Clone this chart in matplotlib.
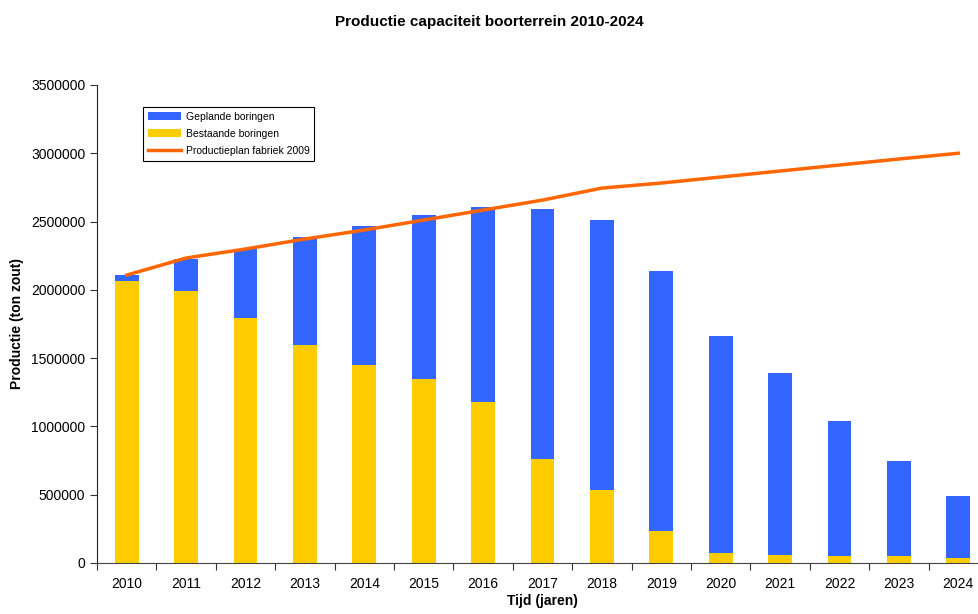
import numpy as np
import matplotlib.pyplot as plt

plt.rcParams['font.family'] = ['Liberation Sans', 'DejaVu Sans']

jaren = ['2010', '2011', '2012', '2013', '2014', '2015', '2016', '2017',
         '2018', '2019', '2020', '2021', '2022', '2023', '2024']
bestaand = [2064000, 1991000, 1794000, 1596000, 1450000, 1347000, 1179000, 761000,
            534000, 234000, 73000, 59000, 52000, 52000, 37000]
totaal = [2108000, 2226000, 2299000, 2387000, 2467000, 2548000, 2606000, 2592000,
          2511000, 2138000, 1662000, 1391000, 1040000, 747000, 490000]
gepland = [t - b for t, b in zip(totaal, bestaand)]
productieplan = [2108000, 2233000, 2299000, 2372000, 2438000, 2511000, 2584000, 2657000,
                 2745000, 2782000, 2826000, 2870000, 2914000, 2958000, 3000000]

x = np.arange(len(jaren))

fig = plt.figure(figsize=(9.79, 6.14), dpi=100)
ax = fig.add_axes([0.0991, 0.0831, 0.9101, 0.7785])

b1 = ax.bar(x, bestaand, width=0.4, color='#FFCC00', label='Bestaande boringen', zorder=2)
b2 = ax.bar(x, gepland, width=0.4, bottom=bestaand, color='#3366FF',
            label='Geplande boringen', zorder=2)
l1, = ax.plot(x, productieplan, color='#FF6600', lw=2.5, label='Productieplan fabriek 2009',
              zorder=3)

ax.set_xlim(-0.5, len(jaren) - 0.5)
ax.set_ylim(0, 3500000)
ax.set_yticks(range(0, 3500001, 500000))
ax.set_yticklabels([str(v) for v in range(0, 3500001, 500000)], fontsize=10)

# tick marks between categories, labels centred under bars
ax.set_xticks(np.arange(-0.5, len(jaren), 1.0))
ax.set_xticklabels([])
ax.set_xticks(x, minor=True)
ax.set_xticklabels(jaren, minor=True, fontsize=10)
ax.tick_params(axis='x', which='minor', length=0, pad=10)
ax.tick_params(axis='x', which='major', length=5, color='#333333')
ax.tick_params(axis='y', length=5, color='#333333')

ax.spines['top'].set_visible(False)
ax.spines['right'].set_visible(False)
ax.spines['left'].set_color('#222222')
ax.spines['bottom'].set_color('#444444')

ax.set_xlabel('Tijd (jaren)', fontsize=10, fontweight='bold', labelpad=2)
ax.set_ylabel('Productie (ton zout)', fontsize=10, fontweight='bold', labelpad=5)
fig.suptitle('Productie capaciteit boorterrein 2010-2024', fontsize=11, fontweight='bold',
             y=0.975)

leg = ax.legend([b2, b1, l1], ['Geplande boringen', 'Bestaande boringen',
                               'Productieplan fabriek 2009'],
                loc='upper left', bbox_to_anchor=(0.052, 0.954), fontsize=7.5,
                fancybox=False, framealpha=1, edgecolor='black', borderpad=0.45,
                handlelength=3.2, handleheight=0.7, labelspacing=0.68, borderaxespad=0,
                handletextpad=0.4)
leg.get_frame().set_linewidth(0.8)

fig.savefig('out.png', dpi=100)
